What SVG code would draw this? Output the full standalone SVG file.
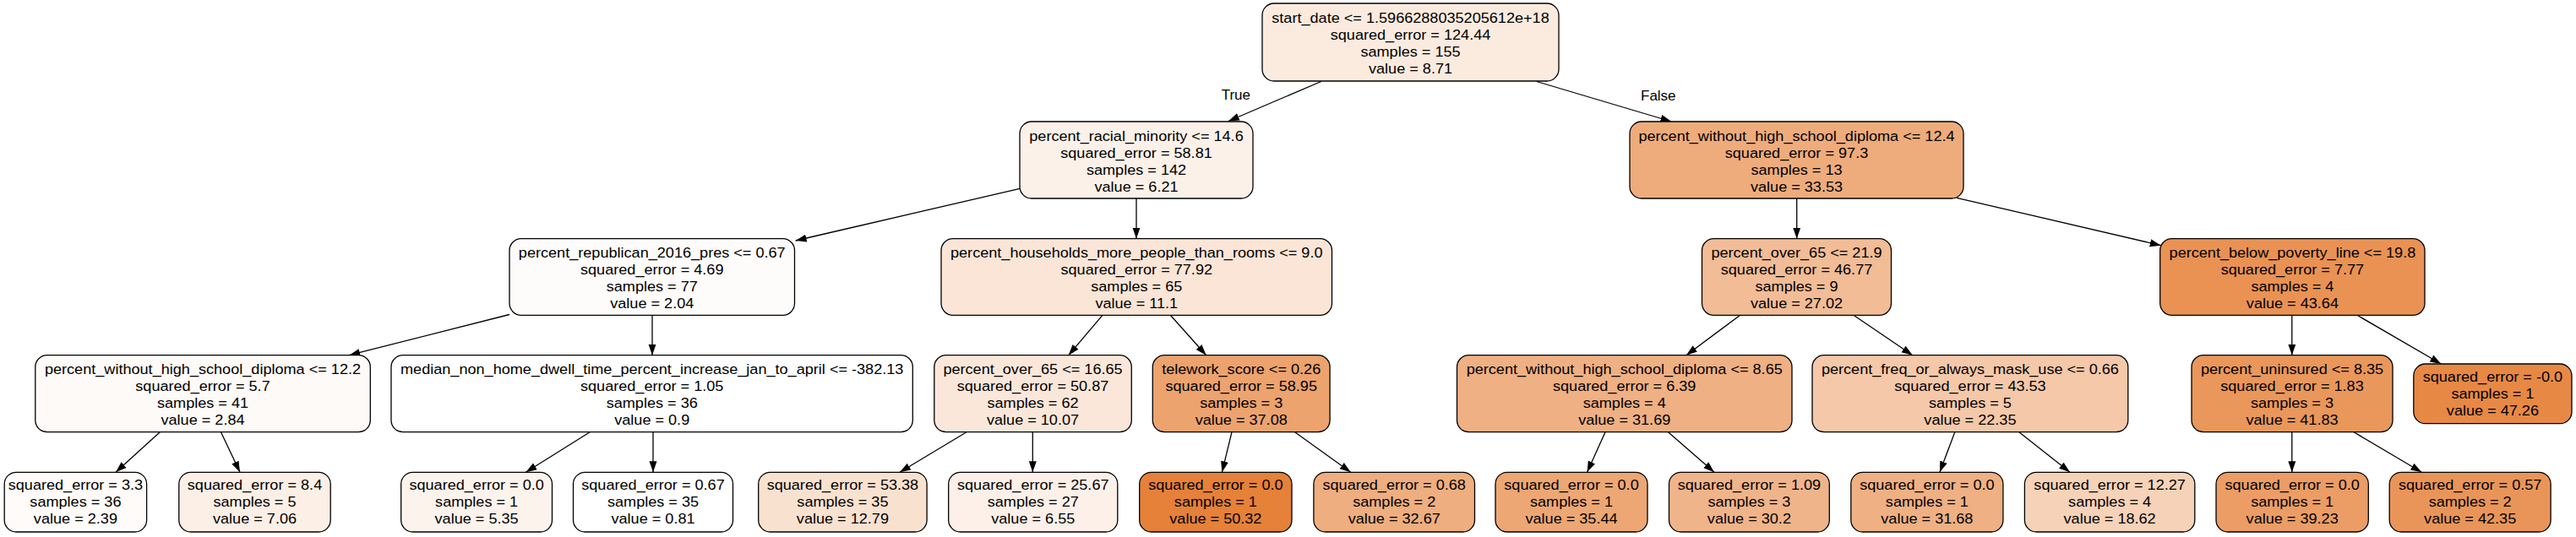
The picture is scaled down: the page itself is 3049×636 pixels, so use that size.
<svg xmlns="http://www.w3.org/2000/svg" width="3049" height="636" viewBox="0 0 3049 636">
<defs>
<marker id="arr" markerWidth="13" markerHeight="10" refX="13" refY="5" orient="auto" markerUnits="userSpaceOnUse">
<path d="M0,0.5 L13,5 L0,9.5 z" fill="#000"/>
</marker>
<style>
g[id^="n"] rect{stroke:#000;stroke-width:1.3}
text{font-family:"Liberation Sans",Arial,Helvetica,sans-serif;font-size:17px;text-anchor:middle;fill:#000}
#edges line{stroke:#000;stroke-width:1.3;marker-end:url(#arr)}
</style>
</defs>
<g id="edges">
<line x1="1563.8" y1="96.5" x2="1453.9" y2="143.5"/>
<line x1="1818.7" y1="96.5" x2="1978.4" y2="144"/>
<line x1="1207.1" y1="223.3" x2="941.6" y2="285"/>
<line x1="1345" y1="235" x2="1345" y2="282.7"/>
<line x1="2126.7" y1="235" x2="2126.7" y2="282.7"/>
<line x1="2316" y1="234.3" x2="2557.7" y2="290.7"/>
<line x1="603" y1="372.5" x2="413.2" y2="420.7"/>
<line x1="772" y1="373.3" x2="772" y2="420.7"/>
<line x1="1304.9" y1="373.3" x2="1264.7" y2="420.7"/>
<line x1="1385.3" y1="373.3" x2="1427.7" y2="420.7"/>
<line x1="2059.7" y1="373.3" x2="1995.9" y2="420.7"/>
<line x1="2193.9" y1="373.3" x2="2263.8" y2="420.7"/>
<line x1="2712.8" y1="373.3" x2="2712.8" y2="420.7"/>
<line x1="2790" y1="373.3" x2="2889.3" y2="431"/>
<line x1="189.3" y1="511.7" x2="137" y2="559.3"/>
<line x1="261.5" y1="511.7" x2="284" y2="559.3"/>
<line x1="698.2" y1="511.7" x2="622.4" y2="559.3"/>
<line x1="773" y1="511.7" x2="773" y2="559.3"/>
<line x1="1144" y1="511.7" x2="1065" y2="559.3"/>
<line x1="1222.3" y1="511.7" x2="1222.3" y2="559.3"/>
<line x1="1458" y1="511.7" x2="1446.4" y2="559.3"/>
<line x1="1532.6" y1="511.7" x2="1598.7" y2="559.3"/>
<line x1="1900" y1="511.7" x2="1878.6" y2="559.3"/>
<line x1="1974.5" y1="511.7" x2="2029" y2="559.3"/>
<line x1="2313.8" y1="511.7" x2="2295.9" y2="559.3"/>
<line x1="2389.8" y1="511.7" x2="2450" y2="559.3"/>
<line x1="2712.8" y1="511.7" x2="2712.8" y2="559.3"/>
<line x1="2786" y1="511.7" x2="2866.3" y2="559.3"/>
<text x="1462.8" y="118">True</text>
<text x="1962.8" y="119">False</text>
</g>

<g id="n0"><rect x="1494" y="4" width="351" height="92" rx="14" fill="#fbebdf"/>
<g transform="translate(1669.5,0) scale(1.065,1)"><text y="26.6">start_date &lt;= 1.5966288035205612e+18</text><text y="46.6">squared_error = 124.44</text><text y="66.6">samples = 155</text><text y="86.6">value = 8.71</text></g></g>

<g id="n1"><rect x="1207" y="144" width="276" height="91" rx="14" fill="#fcf1e9"/>
<g transform="translate(1345,0) scale(1.065,1)"><text y="166.6">percent_racial_minority &lt;= 14.6</text><text y="186.6">squared_error = 58.81</text><text y="206.6">samples = 142</text><text y="226.6">value = 6.21</text></g></g>

<g id="n2"><rect x="1929" y="144" width="395" height="91" rx="14" fill="#eeac7c"/>
<g transform="translate(2126.5,0) scale(1.065,1)"><text y="166.6">percent_without_high_school_diploma &lt;= 12.4</text><text y="186.6">squared_error = 97.3</text><text y="206.6">samples = 13</text><text y="226.6">value = 33.53</text></g></g>

<g id="n3"><rect x="603" y="282.7" width="337.5" height="90.6" rx="14" fill="#fefcfa"/>
<g transform="translate(771.75,0) scale(1.065,1)"><text y="305.3">percent_republican_2016_pres &lt;= 0.67</text><text y="325.3">squared_error = 4.69</text><text y="345.3">samples = 77</text><text y="365.3">value = 2.04</text></g></g>

<g id="n4"><rect x="1114" y="282.7" width="462.5" height="90.6" rx="14" fill="#fae5d6"/>
<g transform="translate(1345.25,0) scale(1.065,1)"><text y="305.3">percent_households_more_people_than_rooms &lt;= 9.0</text><text y="325.3">squared_error = 77.92</text><text y="345.3">samples = 65</text><text y="365.3">value = 11.1</text></g></g>

<g id="n5"><rect x="2014.5" y="282.7" width="224" height="90.6" rx="14" fill="#f1bc96"/>
<g transform="translate(2126.5,0) scale(1.065,1)"><text y="305.3">percent_over_65 &lt;= 21.9</text><text y="325.3">squared_error = 46.77</text><text y="345.3">samples = 9</text><text y="365.3">value = 27.02</text></g></g>

<g id="n6"><rect x="2556.7" y="282.7" width="313.3" height="90.6" rx="14" fill="#e99254"/>
<g transform="translate(2713.4,0) scale(1.065,1)"><text y="305.3">percent_below_poverty_line &lt;= 19.8</text><text y="325.3">squared_error = 7.77</text><text y="345.3">samples = 4</text><text y="365.3">value = 43.64</text></g></g>

<g id="n7"><rect x="41.8" y="420.7" width="396.5" height="91" rx="14" fill="#fefaf7"/>
<g transform="translate(240,0) scale(1.065,1)"><text y="443.3">percent_without_high_school_diploma &lt;= 12.2</text><text y="463.3">squared_error = 5.7</text><text y="483.3">samples = 41</text><text y="503.3">value = 2.84</text></g></g>

<g id="n8"><rect x="463" y="420.7" width="617.3" height="91" rx="14" fill="#ffffff"/>
<g transform="translate(771.7,0) scale(1.065,1)"><text y="443.3">median_non_home_dwell_time_percent_increase_jan_to_april &lt;= -382.13</text><text y="463.3">squared_error = 1.05</text><text y="483.3">samples = 36</text><text y="503.3">value = 0.9</text></g></g>

<g id="n9"><rect x="1105.8" y="420.7" width="233.5" height="91" rx="14" fill="#fae7da"/>
<g transform="translate(1222.5,0) scale(1.065,1)"><text y="443.3">percent_over_65 &lt;= 16.65</text><text y="463.3">squared_error = 50.87</text><text y="483.3">samples = 62</text><text y="503.3">value = 10.07</text></g></g>

<g id="n10"><rect x="1364.3" y="420.7" width="209.8" height="91" rx="14" fill="#eca36e"/>
<g transform="translate(1469.2,0) scale(1.065,1)"><text y="443.3">telework_score &lt;= 0.26</text><text y="463.3">squared_error = 58.95</text><text y="483.3">samples = 3</text><text y="503.3">value = 37.08</text></g></g>

<g id="n11"><rect x="1724.5" y="420.7" width="396.5" height="91" rx="14" fill="#efb083"/>
<g transform="translate(1922.7,0) scale(1.065,1)"><text y="443.3">percent_without_high_school_diploma &lt;= 8.65</text><text y="463.3">squared_error = 6.39</text><text y="483.3">samples = 4</text><text y="503.3">value = 31.69</text></g></g>

<g id="n12"><rect x="2145" y="420.7" width="373.8" height="91" rx="14" fill="#f4c8a9"/>
<g transform="translate(2331.9,0) scale(1.065,1)"><text y="443.3">percent_freq_or_always_mask_use &lt;= 0.66</text><text y="463.3">squared_error = 43.53</text><text y="483.3">samples = 5</text><text y="503.3">value = 22.35</text></g></g>

<g id="n13"><rect x="2594" y="420.7" width="238" height="91" rx="14" fill="#e9975b"/>
<g transform="translate(2713,0) scale(1.065,1)"><text y="443.3">percent_uninsured &lt;= 8.35</text><text y="463.3">squared_error = 1.83</text><text y="483.3">samples = 3</text><text y="503.3">value = 41.83</text></g></g>

<g id="n14"><rect x="2856.8" y="431" width="187.2" height="70.7" rx="14" fill="#e78945"/>
<g transform="translate(2950.4,0) scale(1.065,1)"><text y="451.7">squared_error = -0.0</text><text y="471.7">samples = 1</text><text y="491.7">value = 47.26</text></g></g>

<g id="n15"><rect x="5.2" y="559.3" width="168.4" height="70.7" rx="14" fill="#fefbf9"/>
<g transform="translate(89.4,0) scale(1.065,1)"><text y="580">squared_error = 3.3</text><text y="600">samples = 36</text><text y="620">value = 2.39</text></g></g>

<g id="n16"><rect x="211.8" y="559.3" width="179.4" height="70.7" rx="14" fill="#fcefe6"/>
<g transform="translate(301.5,0) scale(1.065,1)"><text y="580">squared_error = 8.4</text><text y="600">samples = 5</text><text y="620">value = 7.06</text></g></g>

<g id="n17"><rect x="474.7" y="559.3" width="178.8" height="70.7" rx="14" fill="#fdf3ed"/>
<g transform="translate(564.1,0) scale(1.065,1)"><text y="580">squared_error = 0.0</text><text y="600">samples = 1</text><text y="620">value = 5.35</text></g></g>

<g id="n18"><rect x="678.5" y="559.3" width="189" height="70.7" rx="14" fill="#ffffff"/>
<g transform="translate(773,0) scale(1.065,1)"><text y="580">squared_error = 0.67</text><text y="600">samples = 35</text><text y="620">value = 0.81</text></g></g>

<g id="n19"><rect x="897.7" y="559.3" width="199.4" height="70.7" rx="14" fill="#f9e1cf"/>
<g transform="translate(997.4,0) scale(1.065,1)"><text y="580">squared_error = 53.38</text><text y="600">samples = 35</text><text y="620">value = 12.79</text></g></g>

<g id="n20"><rect x="1122.7" y="559.3" width="200.1" height="70.7" rx="14" fill="#fcf0e8"/>
<g transform="translate(1222.75,0) scale(1.065,1)"><text y="580">squared_error = 25.67</text><text y="600">samples = 27</text><text y="620">value = 6.55</text></g></g>

<g id="n21"><rect x="1348.7" y="559.3" width="180.3" height="70.7" rx="14" fill="#e58139"/>
<g transform="translate(1438.85,0) scale(1.065,1)"><text y="580">squared_error = 0.0</text><text y="600">samples = 1</text><text y="620">value = 50.32</text></g></g>

<g id="n22"><rect x="1554.9" y="559.3" width="190.6" height="70.7" rx="14" fill="#eeae7f"/>
<g transform="translate(1650.2,0) scale(1.065,1)"><text y="580">squared_error = 0.68</text><text y="600">samples = 2</text><text y="620">value = 32.67</text></g></g>

<g id="n23"><rect x="1770" y="559.3" width="180" height="70.7" rx="14" fill="#eda774"/>
<g transform="translate(1860,0) scale(1.065,1)"><text y="580">squared_error = 0.0</text><text y="600">samples = 1</text><text y="620">value = 35.44</text></g></g>

<g id="n24"><rect x="1975.5" y="559.3" width="189.8" height="70.7" rx="14" fill="#f0b48a"/>
<g transform="translate(2070.4,0) scale(1.065,1)"><text y="580">squared_error = 1.09</text><text y="600">samples = 3</text><text y="620">value = 30.2</text></g></g>

<g id="n25"><rect x="2190.8" y="559.3" width="180.1" height="70.7" rx="14" fill="#efb083"/>
<g transform="translate(2280.85,0) scale(1.065,1)"><text y="580">squared_error = 0.0</text><text y="600">samples = 1</text><text y="620">value = 31.68</text></g></g>

<g id="n26"><rect x="2396.4" y="559.3" width="201.4" height="70.7" rx="14" fill="#f6d2b8"/>
<g transform="translate(2497.1,0) scale(1.065,1)"><text y="580">squared_error = 12.27</text><text y="600">samples = 4</text><text y="620">value = 18.62</text></g></g>

<g id="n27"><rect x="2623" y="559.3" width="180.3" height="70.7" rx="14" fill="#eb9d65"/>
<g transform="translate(2713.15,0) scale(1.065,1)"><text y="580">squared_error = 0.0</text><text y="600">samples = 1</text><text y="620">value = 39.23</text></g></g>

<g id="n28"><rect x="2828.2" y="559.3" width="190.9" height="70.7" rx="14" fill="#e99559"/>
<g transform="translate(2923.65,0) scale(1.065,1)"><text y="580">squared_error = 0.57</text><text y="600">samples = 2</text><text y="620">value = 42.35</text></g></g>
</svg>
